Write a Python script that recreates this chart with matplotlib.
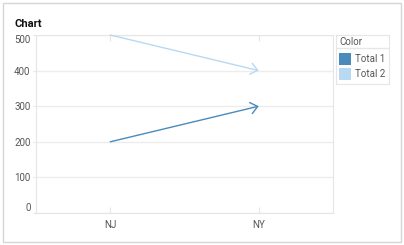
import matplotlib
matplotlib.use('Agg')
from matplotlib import pyplot as plt
from matplotlib.patches import Rectangle
from matplotlib.lines import Line2D

plt.rcParams['font.family'] = ['Roboto', 'DejaVu Sans']

# data
states = ['NJ', 'NY']
series_names = ['Total 1', 'Total 2']
total_1 = [200, 300]
total_2 = [500, 400]
colors = ['#4a8bbb', '#b8d9f2']
y_ticks = [0, 100, 200, 300, 400, 500]

W, H = 404, 245
fig = plt.figure(figsize=(W / 100, H / 100), dpi=100)

# outer frame
fig.add_artist(Rectangle((3 / W, 3 / H), 398 / W, 239 / H, transform=fig.transFigure,
                         fill=False, edgecolor='#d6d6d6', lw=1))
fig.text(14 / W, 1 - 27 / H, 'Chart', fontsize=8, fontweight='bold', color='#111111')

ax = fig.add_axes([36 / W, 1 - 213 / H, 297 / W, 178 / H])
ax.set_xlim(-0.5, len(states) - 0.5)
ax.set_ylim(0, 500)

for vals, c in zip([total_1, total_2], colors):
    ax.annotate('', xy=(1, vals[1]), xytext=(0, vals[0]),
                arrowprops=dict(arrowstyle='->,head_length=0.55,head_width=0.45',
                                color=c, lw=1, mutation_scale=9,
                                shrinkA=0, shrinkB=0))

ax.set_yticks(y_ticks)
ax.set_xticks(range(len(states)))
ax.set_xticklabels(states)
ax.grid(axis='y', color='#ededed', lw=1)
ax.set_axisbelow(True)
for s in ax.spines.values():
    s.set_color('#e6e6e6')
ax.tick_params(axis='y', length=2, color='#e6e6e6', labelsize=7,
               labelcolor='#555555', pad=2)
ax.tick_params(axis='x', direction='in', length=4, color='#e6e6e6', labelsize=7,
               labelcolor='#555555', pad=5, top=True)
labels = ax.get_yticklabels()
labels[0].set_va('bottom')
labels[-1].set_va('top')

# legend
lax = fig.add_axes([336 / W, 1 - 84 / H, 53 / W, 49 / H])
lax.set_xlim(0, 53)
lax.set_ylim(49, 0)
lax.set_xticks([])
lax.set_yticks([])
for s in lax.spines.values():
    s.set_color('#e6e6e6')
lax.text(3, 7, 'Color', fontsize=7, color='#555555', va='center')
lax.add_line(Line2D([0, 53], [13.5, 13.5], color='#e6e6e6', lw=1))
for i, (name, c) in enumerate(zip(series_names, colors)):
    y = 24 + i * 15
    lax.add_patch(Rectangle((3, y - 6), 12, 12, facecolor=c, edgecolor='none'))
    lax.text(19, y, name, fontsize=7, color='#555555', va='center')

plt.savefig('out.png', dpi=100)
